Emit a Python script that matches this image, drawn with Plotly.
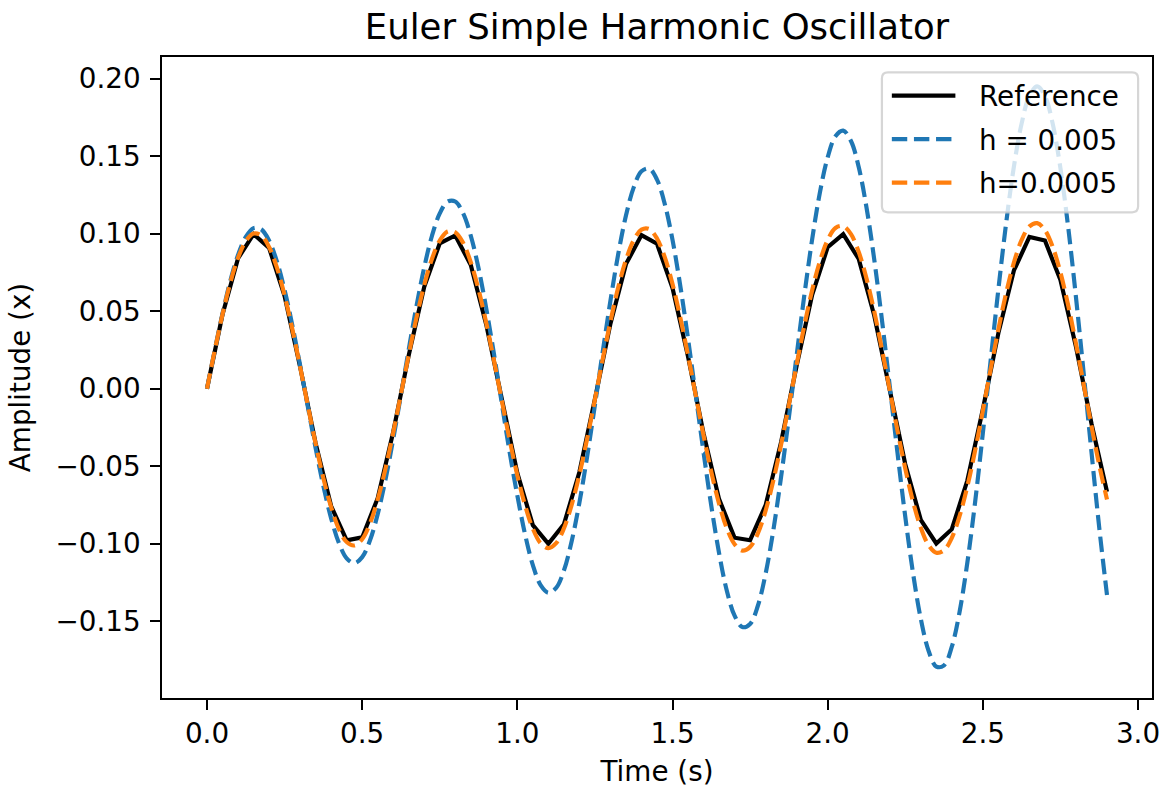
import plotly.graph_objects as go

# ---- data ----
t_ref = [round(0.05 * i, 2) for i in range(59)]
x_ref = [0.0, 0.0479, 0.0841, 0.0997, 0.0909, 0.0598, 0.0141, -0.0351, -0.0757, -0.0978,
         -0.0959, -0.0706, -0.0279, 0.0215, 0.0657, 0.0938, 0.0989, 0.0798, 0.0412, -0.0075,
         -0.0544, -0.0880, -0.1000, -0.0875, -0.0537, -0.0066, 0.0420, 0.0804, 0.0991, 0.0935,
         0.0650, 0.0207, -0.0288, -0.0712, -0.0961, -0.0977, -0.0751, -0.0343, 0.0150, 0.0606,
         0.0913, 0.0997, 0.0837, 0.0472, -0.0009, -0.0487, -0.0846, -0.0998, -0.0906, -0.0592,
         -0.0132, 0.0359, 0.0763, 0.0979, 0.0956, 0.0701, 0.0271, -0.0224, -0.0664]

t_fine = [round(0.025 * i, 3) for i in range(117)]
x_h1 = [0.0, 0.0249, 0.0485, 0.0695, 0.0863, 0.0979, 0.1036, 0.1028, 0.0956, 0.0823,
        0.0637, 0.0409, 0.0152, -0.0117, -0.0383, -0.0628, -0.0836, -0.0995, -0.1094, -0.1125,
        -0.1086, -0.0979, -0.0809, -0.0587, -0.0325, -0.0039, 0.0253, 0.0533, 0.0783, 0.0987,
        0.1131, 0.1207, 0.1208, 0.1133, 0.0987, 0.0777, 0.0516, 0.0220, -0.0095, -0.0408,
        -0.0689, -0.0940, -0.1138, -0.1267, -0.1316, -0.1285, -0.1173, -0.0984, -0.0735, -0.0436,
        -0.0105, 0.0237, 0.0568, 0.0868, 0.1117, 0.1299, 0.1403, 0.1420, 0.1349, 0.1192,
        0.0960, 0.0664, 0.0323, -0.0043, -0.0410, -0.0756, -0.1060, -0.1303, -0.1464, -0.1537,
        -0.1517, -0.1400, -0.1193, -0.0911, -0.0566, -0.0184, 0.0216, 0.0607, 0.0964, 0.1267,
        0.1493, 0.1629, 0.1665, 0.1598, 0.1430, 0.1170, 0.0834, 0.0441, 0.0016, -0.0415,
        -0.0826, -0.1190, -0.1484, -0.1690, -0.1792, -0.1784, -0.1664, -0.1439, -0.1122, -0.0732,
        -0.0286, 0.0181, 0.0641, 0.1068, 0.1433, 0.1712, 0.1889, 0.1950, 0.1889, 0.1710,
        0.1422, 0.1041, 0.0590, 0.0097, -0.0409, -0.0896, -0.1331]
x_h2 = [0.0, 0.0248, 0.0480, 0.0683, 0.0844, 0.0952, 0.1001, 0.0988, 0.0914, 0.0783,
        0.0602, 0.0384, 0.0142, -0.0109, -0.0354, -0.0577, -0.0764, -0.0905, -0.0989, -0.1011,
        -0.0971, -0.0870, -0.0715, -0.0516, -0.0284, -0.0034, 0.0219, 0.0458, 0.0669, 0.0838,
        0.0956, 0.1014, 0.1009, 0.0942, 0.0816, 0.0639, 0.0422, 0.0178, -0.0077, -0.0328,
        -0.0558, -0.0752, -0.0903, -0.0997, -0.1028, -0.0996, -0.0901, -0.0749, -0.0553, -0.0321,
        -0.0068, 0.0189, 0.0434, 0.0653, 0.0831, 0.0958, 0.1026, 0.1030, 0.0969, 0.0849,
        0.0675, 0.0460, 0.0215, -0.0044, -0.0300, -0.0537, -0.0742, -0.0901, -0.1003, -0.1044,
        -0.1020, -0.0933, -0.0786, -0.0591, -0.0359, -0.0104, 0.0157, 0.0409, 0.0636, 0.0823,
        0.0960, 0.1037, 0.1049, 0.0997, 0.0882, 0.0712, 0.0498, 0.0252, -0.0009, -0.0271,
        -0.0515, -0.0728, -0.0896, -0.1009, -0.1058, -0.1042, -0.0962, -0.0821, -0.0630, -0.0399,
        -0.0141, 0.0125, 0.0383, 0.0617, 0.0814, 0.0960, 0.1047, 0.1068, 0.1023, 0.0915,
        0.0749, 0.0537, 0.0291, 0.0026, -0.0240, -0.0492, -0.0714]

series_names = ["Reference", "h = 0.005", "h=0.0005"]
series_colors = ["#000000", "#1f77b4", "#ff7f0e"]
series_dashes = ["solid", "15.4px,6.7px", "15.4px,6.7px"]
x_tick_vals = [0.0, 0.5, 1.0, 1.5, 2.0, 2.5, 3.0]
x_tick_text = ["0.0", "0.5", "1.0", "1.5", "2.0", "2.5", "3.0"]
y_tick_vals = [0.20, 0.15, 0.10, 0.05, 0.00, -0.05, -0.10, -0.15]
y_tick_text = ["0.20", "0.15", "0.10", "0.05", "0.00", "\u22120.05", "\u22120.10", "\u22120.15"]

FONT = "DejaVu Sans"
FS = 27.8
LW = 4.17
W, H = 1172, 794
ML, MR, MT, MB = 162, 13, 57, 89
PW, PH = W - ML - MR, H - MT - MB

fig = go.Figure()
fig.add_trace(go.Scatter(x=t_ref, y=x_ref, mode="lines", name=series_names[0], showlegend=False,
                         line=dict(color=series_colors[0], width=LW)))
fig.add_trace(go.Scatter(x=t_fine, y=x_h1, mode="lines", name=series_names[1], showlegend=False,
                         line=dict(color=series_colors[1], width=LW, dash=series_dashes[1],
                                   shape="spline", smoothing=1)))
fig.add_trace(go.Scatter(x=t_fine, y=x_h2, mode="lines", name=series_names[2], showlegend=False,
                         line=dict(color=series_colors[2], width=LW, dash=series_dashes[2],
                                   shape="spline", smoothing=1)))

axis_common = dict(showgrid=False, zeroline=False, showline=True, linecolor="black",
                   linewidth=2.2, mirror=True, ticks="outside", ticklen=9.7, tickwidth=2.2,
                   tickcolor="black", tickfont=dict(family=FONT, size=FS, color="black"))

fig.update_xaxes(range=[-0.145, 3.045], tickvals=x_tick_vals, ticktext=x_tick_text,
                 title=dict(text="Time (s)", font=dict(family=FONT, size=FS, color="black"), standoff=12),
                 **axis_common)
fig.update_yaxes(range=[-0.1995, 0.2140], tickvals=y_tick_vals, ticktext=y_tick_text,
                 ticklabelstandoff=4,
                 title=dict(text="Amplitude (x)", font=dict(family=FONT, size=FS, color="black"), standoff=17),
                 **axis_common)


# ---- legend (drawn in pixel terms converted to paper coords) ----
def px(xp):
    return (xp - ML) / PW


def py(yp):
    return (H - MB - yp) / PH


bx0, bx1, by0, by1, r = 887, 1145, 72.5, 214, 6
path = (f"M{px(bx0 + r)},{py(by0)} L{px(bx1 - r)},{py(by0)} Q{px(bx1)},{py(by0)} {px(bx1)},{py(by0 + r)} "
        f"L{px(bx1)},{py(by1 - r)} Q{px(bx1)},{py(by1)} {px(bx1 - r)},{py(by1)} "
        f"L{px(bx0 + r)},{py(by1)} Q{px(bx0)},{py(by1)} {px(bx0)},{py(by1 - r)} "
        f"L{px(bx0)},{py(by0 + r)} Q{px(bx0)},{py(by0)} {px(bx0 + r)},{py(by0)} Z")
shapes = [dict(type="path", path=path, xref="paper", yref="paper", layer="above",
               fillcolor="rgba(255,255,255,0.8)", line=dict(color="rgba(204,204,204,0.8)", width=2.2))]
annotations = []
row_y = [96, 140, 184]
for name, col, dsh, ry in zip(series_names, series_colors, series_dashes, row_y):
    shapes.append(dict(type="line", xref="paper", yref="paper", layer="above",
                       x0=px(897), x1=px(961), y0=py(ry), y1=py(ry),
                       line=dict(color=col, width=LW, dash=dsh)))
    annotations.append(dict(text=name, xref="paper", yref="paper", x=px(983), y=py(ry + 1),
                            xanchor="left", yanchor="middle", showarrow=False,
                            font=dict(family=FONT, size=FS, color="black")))

fig.update_layout(
    width=W, height=H,
    margin=dict(l=ML, r=MR, t=MT, b=MB),
    paper_bgcolor="white", plot_bgcolor="white",
    font=dict(family=FONT, color="black"),
    title=dict(text="Euler Simple Harmonic Oscillator", x=0.5, xref="paper", xanchor="center",
               y=1, yref="paper", yanchor="bottom", pad=dict(b=18),
               font=dict(family=FONT, size=35.5, color="black")),
    shapes=shapes,
    annotations=annotations,
    showlegend=False,
)

fig.write_html("out.html")
